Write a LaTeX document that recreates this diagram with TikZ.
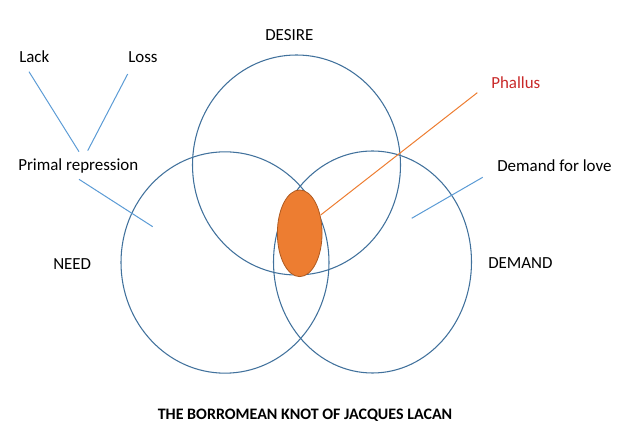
\documentclass[tikz,border=0pt]{standalone}
\usepackage{fontspec}
\setmainfont{Carlito}
\usetikzlibrary{shapes.geometric}
\definecolor{ringblue}{RGB}{65,113,156}
\definecolor{lineblue}{RGB}{91,155,213}
\definecolor{phorange}{RGB}{237,125,49}
\definecolor{phborder}{RGB}{174,90,33}
\definecolor{phred}{RGB}{200,40,40}
\tikzset{
  ring/.style={draw=ringblue, line width=0.8pt, ellipse, inner sep=0pt},
  lbl/.style={anchor=west, inner sep=0pt, font=\fontsize{12.7}{15}\selectfont},
  pointer/.style={draw=lineblue, line width=0.75pt},
}
\begin{document}
\begin{tikzpicture}[x=0.75pt,y=-0.75pt]
\useasboundingbox (0,0) rectangle (632,448);
% rings
\node[ring, minimum width=156pt, minimum height=165pt] (desire) at (296.5,165) {};
\node[ring, minimum width=156pt, minimum height=166pt] (need) at (225,262.5) {};
\node[ring, minimum width=148.5pt, minimum height=166.5pt] (demand) at (372.5,262) {};
% phallus oval
\node[ellipse, fill=phorange, draw=phborder, line width=0.6pt, minimum width=33.5pt, minimum height=65pt, inner sep=0pt] (oval) at (299.7,233.3) {};
% labels
\node[lbl] (desiret) at (265,35) {DESIRE};
\node[lbl] (needt) at (53,264) {NEED};
\node[lbl] (demandt) at (488,263) {DEMAND};
\node[lbl] (lack) at (19,57) {Lack};
\node[lbl] (loss) at (128,57) {Loss};
\node[lbl] (primal) at (18,166) {Primal repression};
\node[lbl, text=phred] (phallus) at (491,83) {Phallus};
\node[lbl] (love) at (497,166) {Demand for love};
\node[inner sep=0pt, font=\fontsize{12}{14}\selectfont\bfseries] (title) at (305,415) {THE BORROMEAN KNOT OF JACQUES LACAN};
% pointer endpoints
\coordinate (lackA) at (29,71.7);
\coordinate (lackB) at (79,151.7);
\coordinate (lossA) at (127.7,74);
\coordinate (lossB) at (87.7,150.7);
\coordinate (primA) at (79,179.3);
\coordinate (primB) at (152.7,226.7);
\coordinate (loveA) at (482.7,177.3);
\coordinate (loveB) at (411.7,218.3);
\coordinate (phA) at (320.7,215);
\coordinate (phB) at (477.3,92.7);
% pointers
\draw[pointer] (lackA) -- (lackB);
\draw[pointer] (lossA) -- (lossB);
\draw[pointer] (primA) -- (primB);
\draw[pointer] (loveA) -- (loveB);
\draw[draw=phorange, line width=0.75pt] (phA) -- (phB);
\end{tikzpicture}
\end{document}
